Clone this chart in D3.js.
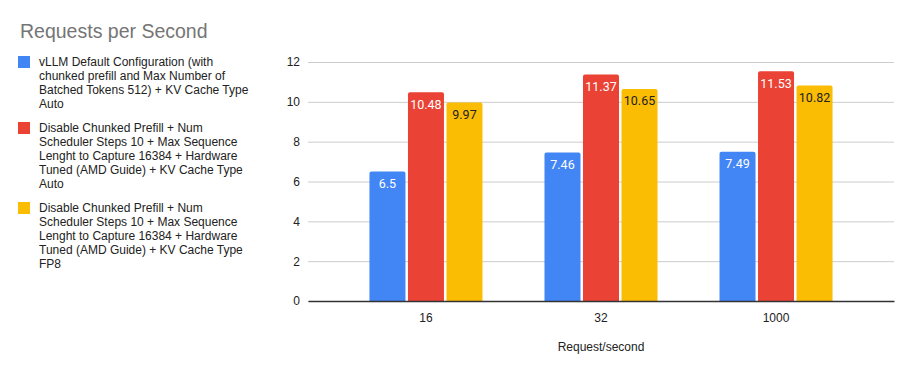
<!DOCTYPE html>
<html>
<head>
<meta charset="utf-8">
<script src="https://cdn.jsdelivr.net/npm/d3@7"></script>
<style>
  html, body { margin: 0; padding: 0; background: #fff; }
  svg { display: block; font-family: "Liberation Sans", Arial, sans-serif; }
</style>
</head>
<body>
<svg id="chart" width="913" height="372"></svg>
<script>
const categories = ["16", "32", "1000"];
const seriesNames = [
  "vLLM Default Configuration (with chunked prefill and Max Number of Batched Tokens 512) + KV Cache Type Auto",
  "Disable Chunked Prefill + Num Scheduler Steps 10 + Max Sequence Lenght to Capture 16384 + Hardware Tuned (AMD Guide) + KV Cache Type Auto",
  "Disable Chunked Prefill + Num Scheduler Steps 10 + Max Sequence Lenght to Capture 16384 + Hardware Tuned (AMD Guide) + KV Cache Type FP8"
];
const legendLines = [
  ["vLLM Default Configuration (with", "chunked prefill and Max Number of", "Batched Tokens 512) + KV Cache Type", "Auto"],
  ["Disable Chunked Prefill + Num", "Scheduler Steps 10 + Max Sequence", "Lenght to Capture 16384 + Hardware", "Tuned (AMD Guide) + KV Cache Type", "Auto"],
  ["Disable Chunked Prefill + Num", "Scheduler Steps 10 + Max Sequence", "Lenght to Capture 16384 + Hardware", "Tuned (AMD Guide) + KV Cache Type", "FP8"]
];
const defaultValues = [6.5, 7.46, 7.49];
const noChunkAutoValues = [10.48, 11.37, 11.53];
const noChunkFp8Values = [9.97, 10.65, 10.82];
const seriesValues = [defaultValues, noChunkAutoValues, noChunkFp8Values];
const colors = ["#4285F4", "#EA4335", "#FBBC04"];
const labelColors = ["#ffffff", "#ffffff", "#222222"];
const yTicks = [0, 2, 4, 6, 8, 10, 12];
const title = "Requests per Second";
const xTitle = "Request/second";

const svg = d3.select("#chart");
const plotLeft = 308, plotRight = 894, plotTop = 62, plotBottom = 301;

const y = d3.scaleLinear().domain([0, 12]).range([plotBottom, plotTop]);
const x0 = d3.scaleBand().domain(categories).range([plotLeft, plotRight]).paddingInner(0).paddingOuter(0.174);
const x1 = d3.scaleBand().domain(d3.range(seriesValues.length)).range([0, x0.bandwidth()])
  .paddingInner(0.065).paddingOuter(0.805);

// Title
svg.append("text").attr("x", 20).attr("y", 38)
  .attr("font-size", 19.5).attr("fill", "#757575").text(title);

// Gridlines
const yAxis = d3.axisLeft(y).tickValues(yTicks).tickSize(-(plotRight - plotLeft)).tickFormat(d3.format("d")).tickPadding(8);
const gy = svg.append("g").attr("transform", `translate(${plotLeft},0)`).call(yAxis);
gy.select(".domain").remove();
gy.selectAll(".tick line").attr("stroke", "#cccccc").attr("stroke-width", 1);
gy.selectAll(".tick text").attr("font-size", 12).attr("fill", "#222").attr("font-family", "'Liberation Sans', Arial, sans-serif");

// Bars
const r = 2;
function barPath(x, yTop, w, h) {
  return `M${x},${yTop + h}V${yTop + r}Q${x},${yTop} ${x + r},${yTop}H${x + w - r}Q${x + w},${yTop} ${x + w},${yTop + r}V${yTop + h}Z`;
}
const groups = svg.append("g").selectAll("g").data(categories).join("g")
  .attr("transform", d => `translate(${x0(d)},0)`);
groups.each(function(cat, ci) {
  const g = d3.select(this);
  seriesValues.forEach((vals, si) => {
    const v = vals[ci];
    const bx = x1(si), bw = x1.bandwidth();
    g.append("path").attr("d", barPath(bx, y(v), bw, y(0) - y(v))).attr("fill", colors[si]);
    g.append("text").attr("x", bx + bw / 2).attr("y", y(v) + 16.5)
      .attr("text-anchor", "middle").attr("font-size", 12.5).attr("fill", labelColors[si])
      .attr("font-family", "Roboto, sans-serif")
      .text(v);
  });
});

// X axis
const xAxis = d3.axisBottom(x0).tickSize(0).tickPadding(12);
const gx = svg.append("g").attr("transform", `translate(0,${plotBottom})`).call(xAxis);
gx.select(".domain").attr("stroke", "#333").attr("stroke-width", 1.5);
gx.selectAll(".tick text").attr("font-size", 12).attr("fill", "#222").attr("font-family", "'Liberation Sans', Arial, sans-serif");

svg.append("text").attr("x", (plotLeft + plotRight) / 2).attr("y", 351)
  .attr("text-anchor", "middle").attr("font-size", 12).attr("fill", "#222").text(xTitle);

// Legend
const legend = svg.append("g");
let ly = 62;
legendLines.forEach((lines, i) => {
  legend.append("rect").attr("x", 18).attr("y", ly - 6).attr("width", 12).attr("height", 12).attr("fill", colors[i]);
  const t = legend.append("text").attr("font-size", 12).attr("fill", "#222");
  lines.forEach((ln, j) => {
    t.append("tspan").attr("x", 39).attr("y", ly + 4.3 + j * 14).text(ln);
  });
  ly += lines.length * 14 + 10;
});
</script>
</body>
</html>
